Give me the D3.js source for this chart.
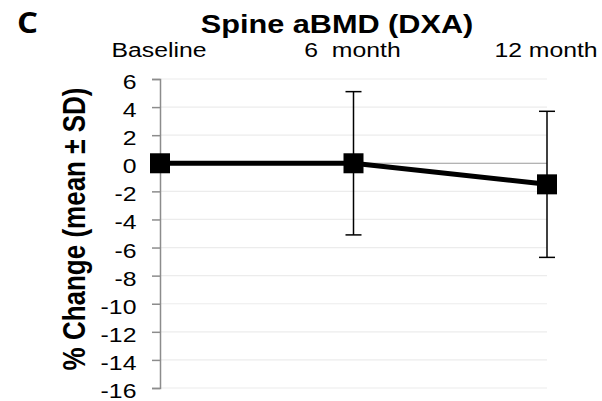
<!DOCTYPE html>
<html>
<head>
<meta charset="utf-8">
<script src="https://cdn.jsdelivr.net/npm/d3@7"></script>
<style>
  body { margin: 0; background: #fff; }
  svg { display: block; font-family: "Liberation Sans", Arial, sans-serif; }
</style>
</head>
<body>
<div id="chart"></div>
<script>
'use strict';

// chart values
var timepoints = ['Baseline', '6  month', '12 month'];
var means = [0, 0, -1.5];
var sds = [0, 5.1, 5.2];
var yTicks = [6, 4, 2, 0, -2, -4, -6, -8, -10, -12, -14, -16];

var width = 602, height = 401;
var stretch = 1.18; // text in the picture is a bit wider than normal

var svg = d3.select('#chart')
    .append('svg')
    .attr('width', width)
    .attr('height', height);

var x = d3.scalePoint()
    .domain(timepoints)
    .range([160, 547]);

var y = d3.scaleLinear()
    .domain([-16, 6])
    .range([388, 79]);

// gridlines
svg.append('g')
    .selectAll('line')
    .data(yTicks.filter(function (d) { return d !== 0; }))
    .enter().append('line')
    .attr('x1', 160)
    .attr('x2', 547)
    .attr('y1', function (d) { return y(d); })
    .attr('y2', function (d) { return y(d); })
    .attr('stroke', '#ececec')
    .attr('stroke-width', 1.2);

// zero line
svg.append('line')
    .attr('x1', 160)
    .attr('x2', 547)
    .attr('y1', y(0))
    .attr('y2', y(0))
    .attr('stroke', '#9a9a9a')
    .attr('stroke-width', 1.2);

// y axis
var yAxis = svg.append('g')
    .attr('transform', 'translate(160,0)')
    .call(d3.axisLeft(y).tickValues(yTicks).tickSize(8).tickPadding(12));
yAxis.select('.domain').attr('stroke', '#8c8c8c').attr('stroke-width', 1.5);
yAxis.selectAll('.tick line').attr('stroke', '#8c8c8c').attr('stroke-width', 1.5);
yAxis.selectAll('.tick text')
    .attr('font-size', 21)
    .attr('fill', '#000')
    .attr('font-family', '"Liberation Sans", Arial, sans-serif')
    .attr('dy', '0.45em')
    .attr('transform', 'scale(' + stretch + ',1)')
    .text(function (d) { return d < 0 ? '-' + Math.abs(d) : d; });

// top category labels
svg.append('g')
    .selectAll('text')
    .data(timepoints)
    .enter().append('text')
    .attr('transform', function (d) {
        return 'translate(' + (x(d) - 1) + ',57) scale(' + stretch + ',1)';
    })
    .attr('text-anchor', 'middle')
    .attr('font-size', 21)
    .style('white-space', 'pre')
    .text(function (d) { return d; });

var pts = timepoints.map(function (t, i) {
    return {t: t, m: means[i], sd: sds[i]};
});

// error bars
var eb = svg.append('g')
    .selectAll('g')
    .data(pts.filter(function (d) { return d.sd > 0; }))
    .enter().append('g')
    .attr('stroke', '#000')
    .attr('stroke-width', 1.5);
eb.append('line')
    .attr('x1', function (d) { return x(d.t); })
    .attr('x2', function (d) { return x(d.t); })
    .attr('y1', function (d) { return y(d.m + d.sd); })
    .attr('y2', function (d) { return y(d.m - d.sd); });
eb.append('line')
    .attr('x1', function (d) { return x(d.t) - 8; })
    .attr('x2', function (d) { return x(d.t) + 8; })
    .attr('y1', function (d) { return y(d.m + d.sd); })
    .attr('y2', function (d) { return y(d.m + d.sd); });
eb.append('line')
    .attr('x1', function (d) { return x(d.t) - 8; })
    .attr('x2', function (d) { return x(d.t) + 8; })
    .attr('y1', function (d) { return y(d.m - d.sd); })
    .attr('y2', function (d) { return y(d.m - d.sd); });

// mean line
svg.append('path')
    .datum(pts)
    .attr('fill', 'none')
    .attr('stroke', '#000')
    .attr('stroke-width', 5)
    .attr('d', d3.line()
        .x(function (d) { return x(d.t); })
        .y(function (d) { return y(d.m); }));

// square markers
svg.append('g')
    .selectAll('rect')
    .data(pts)
    .enter().append('rect')
    .attr('x', function (d) { return x(d.t) - 10; })
    .attr('y', function (d) { return y(d.m) - 10; })
    .attr('width', 20)
    .attr('height', 20)
    .attr('fill', '#000');

// title
svg.append('text')
    .attr('transform', 'translate(337,33) scale(' + stretch + ',1)')
    .attr('text-anchor', 'middle')
    .attr('font-size', 26)
    .attr('font-weight', 'bold')
    .text('Spine aBMD (DXA)');

// panel letter
svg.append('text')
    .attr('transform', 'translate(17,33) scale(' + stretch + ',1)')
    .attr('font-size', 28)
    .attr('font-weight', 'bold')
    .attr('font-family', '"Open Sans", sans-serif')
    .text('C');

// y axis title
svg.append('text')
    .attr('transform', 'translate(85,229) scale(' + stretch + ',1) rotate(-90)')
    .attr('text-anchor', 'middle')
    .attr('font-size', 26)
    .attr('font-weight', 'bold')
    .text('% Change (mean ± SD)');
</script>
</body>
</html>
